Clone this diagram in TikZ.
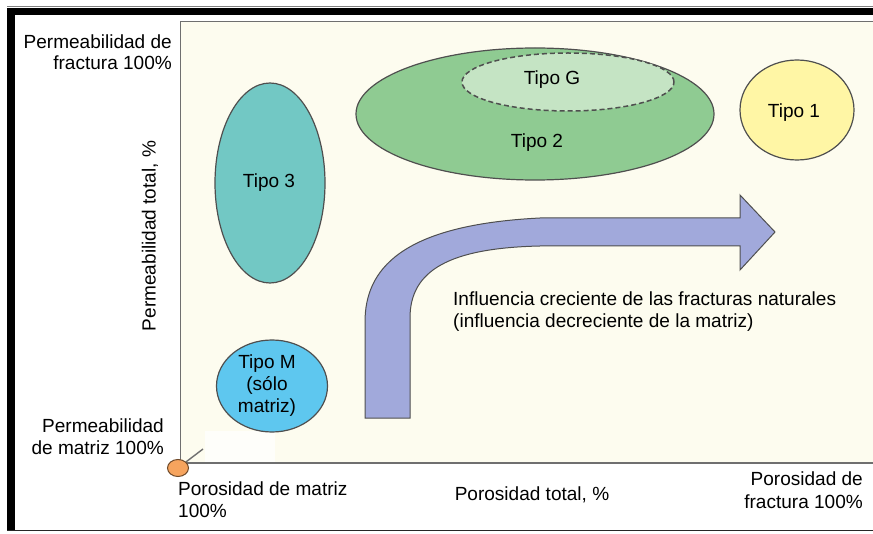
\documentclass[tikz,border=0pt]{standalone}
\usepackage{fontspec}
\setmainfont{Liberation Sans}
\usetikzlibrary{shapes.geometric}
\definecolor{cream}{HTML}{FDFCEF}
\definecolor{teal3}{HTML}{72C8C4}
\definecolor{skyM}{HTML}{5EC7EF}
\definecolor{green2}{HTML}{8FCB92}
\definecolor{greenG}{HTML}{C5E4C4}
\definecolor{yellow1}{HTML}{FFF6A5}
\definecolor{arrowc}{HTML}{A1A9DB}
\definecolor{orangec}{HTML}{F6A45E}
\definecolor{outl}{HTML}{4F4F4F}
\definecolor{framec}{HTML}{6F6F6F}
\begin{document}
\begin{tikzpicture}[x=1bp,y=-1bp,
  every node/.style={font=\fontsize{19.1}{22.1}\selectfont, inner sep=0pt, text=black},
  blob/.style={ellipse, draw=outl, line width=1.2bp, inner sep=0pt},
  lab/.style={anchor=base}]
\useasboundingbox (0,0) rectangle (873,534);
\fill[white] (0,0) rectangle (873,534);
% outer frame
\draw[gray, line width=0.6bp] (7,6) -- (873,6);
\fill[black] (7,8) rectangle (873,15);
\fill[black] (7,8) rectangle (15,531);
\draw[black!85, line width=1.2bp] (7,530.5) -- (873,530.5);
% plot area
\fill[cream] (180.5,21.5) rectangle (880,463);
\fill[white!70!cream] (205,431) rectangle (275,462);
\draw[framec, line width=1.6bp] (880,21.5) -- (180.5,21.5) -- (180.5,463) -- (880,463);
% ellipses
\node[blob, fill=teal3, minimum width=110bp, minimum height=200bp] (t3) at (270,183) {};
\node[blob, fill=skyM, minimum width=111bp, minimum height=92bp] (tm) at (272,386) {};
\node[blob, fill=green2, minimum width=358bp, minimum height=132bp] (t2) at (535,114) {};
\node[ellipse, draw=outl, dashed, dash pattern=on 5bp off 3bp, line width=1.5bp, fill=greenG, minimum width=212bp, minimum height=58bp] (tg) at (568,82) {};
\node[blob, fill=yellow1, minimum width=114bp, minimum height=100bp] (t1) at (797,110) {};
% ellipse labels
\node[lab] (t3l) at (269,188) {Tipo 3};
\node[lab] (tml1) at (267,368) {Tipo M};
\node[lab] (tml2) at (267,390) {(sólo};
\node[lab] (tml3) at (267,412) {matriz)};
\node[lab] (t2l) at (537,148) {Tipo 2};
\node[lab] (tgl) at (552,85) {Tipo G};
\node[lab] (t1l) at (794,118) {Tipo 1};
% bent arrow
\fill[arrowc, draw=outl, line width=1bp, line join=miter]
  (365,418) -- (365,322) .. controls (365,270) and (400,225) .. (540,218)
  -- (740,218) -- (740,195) -- (775,232) -- (740,270) -- (740,246) -- (540,246)
  .. controls (450,248) and (410,270) .. (410,318) -- (410,418) -- cycle;
\node[anchor=base west] (inf1) at (453,306) {Influencia creciente de las fracturas naturales};
\node[anchor=base west] (inf2) at (453,328) {(influencia decreciente de la matriz)};
% origin marker
\coordinate (tick) at (203,449);
\node[ellipse, draw=black!55!orangec, fill=orangec, line width=1bp, minimum width=21bp, minimum height=17bp] (orig) at (178,468) {};
\draw[framec, line width=1.4bp] (orig) -- (tick);
% axis texts
\node[anchor=base east] (pf1) at (172,48.3) {Permeabilidad de};
\node[anchor=base east] (pf2) at (172,69.3) {fractura 100\%};
\node[rotate=90] (pt) at (150,236) {Permeabilidad total, \%};
\node[anchor=base east] (pm1) at (164,432) {Permeabilidad};
\node[anchor=base east] (pm2) at (164,454) {de matriz 100\%};
\node[anchor=base west] (pom1) at (178,495) {Porosidad de matriz};
\node[anchor=base west] (pom2) at (178,517) {100\%};
\node[anchor=base] (pot) at (532,500) {Porosidad total, \%};
\node[anchor=base east] (pof1) at (863,485) {Porosidad de};
\node[anchor=base east] (pof2) at (863,508) {fractura 100\%};
\end{tikzpicture}
\end{document}
